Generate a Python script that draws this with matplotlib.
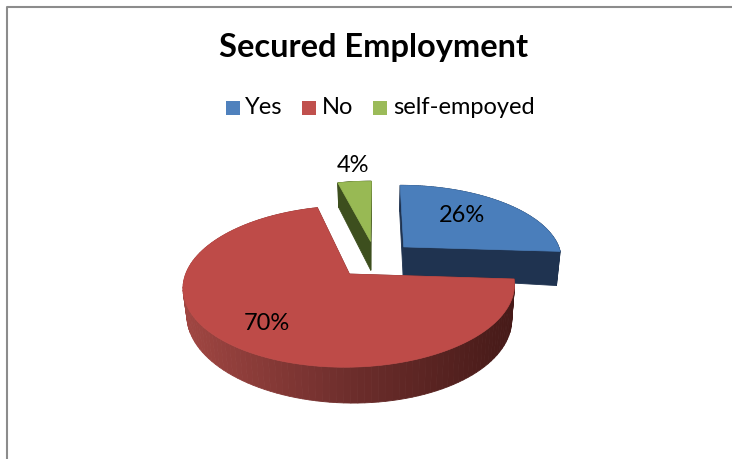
import numpy as np
import matplotlib
matplotlib.use("Agg")
import matplotlib.pyplot as plt
from matplotlib.patches import Polygon, Rectangle

categories = ["Yes", "No", "self-empoyed"]
percent = [26, 70, 4]
top_colors = ["#4A7EBB", "#BE4B48", "#98B954"]
side_colors = ["#1F3350", "#6F2F2C", "#3D4F1E"]
legend_colors = ["#4F81BD", "#C0504D", "#9BBB59"]
title = "Secured Employment"

# fake 3D view: perspective projection of the exploded disc, in pixels
CX, CY = 375.5, 259.3
A, B = 159.0, 74.3
K = 0.15
DEPTH = 30.0
DEPTH_SKEW = 4.0
BOTTOM_SCALE = 0.98
EXPLODE = 0.25
START = 90.0


def project(u, v):
    w = 1 + K * v
    return CX + A * u / w, CY - B * v / w


def project_bottom(u, v):
    x, y = project(u, v)
    w = 1 + K * v
    return CX + (x - CX) * BOTTOM_SCALE, y + (DEPTH + DEPTH_SKEW * u) / w


def quad(ax, p1, p2, color, zorder):
    # one side facet between two points of the top rim
    pts = [project(*p1), project(*p2), project_bottom(*p2), project_bottom(*p1)]
    ax.add_patch(Polygon(pts, closed=True, fc=color, ec=color, lw=0.6, zorder=zorder))


def red_shade(x):
    # side wall of the big slice gets darker from left to right
    t = np.clip((x - 185) / 330, 0, 1)
    c0 = np.array([0xA0, 0x46, 0x42])
    c1 = np.array([0x6E, 0x2E, 0x2C])
    c2 = np.array([0x46, 0x1A, 0x18])
    if t < 0.5:
        c = c0 + (c1 - c0) * t / 0.5
    else:
        c = c1 + (c2 - c1) * (t - 0.5) / 0.5
    return tuple(c / 255)


def draw_slice(ax, theta1, theta2, top_color, side_color, zorder, shaded=False):
    # theta1 -> theta2 runs clockwise, in degrees
    mid = np.radians((theta1 + theta2) / 2)
    ou, ov = EXPLODE * np.cos(mid), EXPLODE * np.sin(mid)
    angles = np.radians(np.linspace(theta1, theta2, 120))
    rim = [(ou + np.cos(a), ov + np.sin(a)) for a in angles]
    apex = (ou, ov)

    quad(ax, apex, rim[0], side_color, zorder)
    quad(ax, apex, rim[-1], side_color, zorder)
    for p1, p2 in zip(rim[:-1], rim[1:]):
        color = red_shade(project(*p1)[0]) if shaded else side_color
        quad(ax, p1, p2, color, zorder + 0.1)

    pts = [project(*apex)] + [project(*p) for p in rim]
    ax.add_patch(Polygon(pts, closed=True, fc=top_color, ec=top_color, lw=0.5,
                         zorder=zorder + 0.2))


fig = plt.figure(figsize=(7.32, 4.59), dpi=100)
ax = fig.add_axes([0, 0, 1, 1])
ax.set_xlim(0, 732)
ax.set_ylim(459, 0)
ax.axis("off")

# chart frame
ax.plot([7, 7, 732], [459, 7, 7], color="#8C8C8C", lw=1.5, zorder=1)

# slices run clockwise from 12 o'clock
spans = [p / sum(percent) * 360 for p in percent]
theta = START
order_z = [2, 4, 3]
for i in range(len(percent)):
    draw_slice(ax, theta, theta - spans[i], top_colors[i], side_colors[i],
               order_z[i], shaded=(categories[i] == "No"))
    theta -= spans[i]

ax.text(373.5, 47, title, family="Lato", weight="bold", fontsize=23.4,
        ha="center", va="center", color="black", zorder=6)

# legend
legend_x = [226, 302, 373]
text_x = [245, 322, 393]
for x, tx, name, color in zip(legend_x, text_x, categories, legend_colors):
    ax.add_patch(Rectangle((x, 101), 14, 14, fc=color, ec="none", zorder=6))
    ax.text(tx, 108, name, family="Lato", fontsize=17, ha="left", va="center",
            color="black", zorder=6)

# data labels
label_x = [462, 267, 353]
label_y = [215, 323, 165]
for x, y, p in zip(label_x, label_y, percent):
    ax.text(x, y, f"{p}%", family="Lato", fontsize=17, ha="center", va="center",
            color="black", zorder=7)

fig.savefig("out.png", dpi=100)
